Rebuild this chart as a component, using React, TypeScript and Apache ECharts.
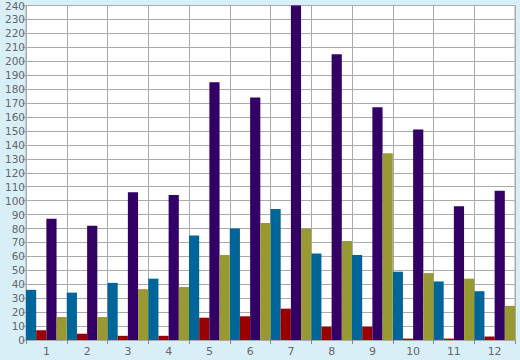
import React, { useEffect, useRef } from "react";
import * as echarts from "echarts";

const categories = ["1", "2", "3", "4", "5", "6", "7", "8", "9", "10", "11", "12"];
const blueValues = [36, 34, 41, 44, 75, 80, 94, 62, 61, 49, 42, 35];
const redValues = [7, 4.5, 3, 3, 16, 17, 22.5, 9.5, 9.5, 1, 1, 2.5];
const purpleValues = [87, 82, 106, 104, 185, 174, 240, 205, 167, 151, 96, 107];
const oliveValues = [16.5, 16.5, 36.5, 38, 61, 84, 80, 71, 134, 48, 44, 24.5];

export default function App() {
  const ref = useRef<HTMLDivElement>(null);
  useEffect(() => {
    if (!ref.current) return;
    const chart = echarts.init(ref.current, undefined, { renderer: "svg" });
    const mk = (data: number[], color: string) => ({
      type: "bar" as const,
      data,
      barGap: "0%",
      barCategoryGap: "0%",
      itemStyle: { color },
    });
    chart.setOption({
      animation: false,
      backgroundColor: "#d9eff7",
      grid: {
        left: 26,
        right: 5,
        top: 5,
        bottom: 20,
        show: true,
        backgroundColor: "#ffffff",
        borderColor: "#aaaaaa",
        borderWidth: 1,
      },
      xAxis: {
        type: "category",
        data: categories,
        axisLine: { show: true, lineStyle: { color: "#aaaaaa" } },
        axisTick: { show: true, length: 4, lineStyle: { color: "#888888" } },
        axisLabel: { color: "#666666", fontSize: 11, fontFamily: "DejaVu Sans", margin: 6 },
        splitLine: { show: true, lineStyle: { color: "#aaaaaa", width: 1 } },
      },
      yAxis: {
        type: "value",
        min: 0,
        max: 240,
        interval: 10,
        axisLine: { show: true, lineStyle: { color: "#aaaaaa" } },
        axisTick: { show: true, length: 4, lineStyle: { color: "#aaaaaa" } },
        axisLabel: { color: "#666666", fontSize: 10.5, fontFamily: "DejaVu Sans", margin: 1 },
        splitLine: { show: true, lineStyle: { color: "#aaaaaa", width: 1 } },
      },
      series: [
        mk(blueValues, "#006699"),
        mk(redValues, "#990000"),
        mk(purpleValues, "#330066"),
        mk(oliveValues, "#999933"),
      ],
    });
    return () => chart.dispose();
  }, []);
  return <div ref={ref} style={{ width: 520, height: 360, position: "absolute", left: 0, top: 0 }} />;
}
